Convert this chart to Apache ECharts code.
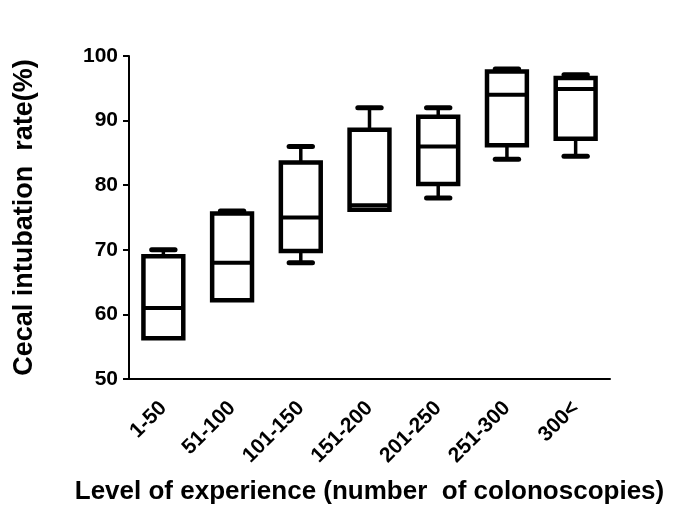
<!DOCTYPE html>
<html>
<head>
<meta charset="utf-8">
<script src="https://cdn.jsdelivr.net/npm/echarts@6/dist/echarts.min.js"></script>
<style>html,body{margin:0;padding:0;background:#fff;}#c{width:685px;height:513px;}</style>
</head>
<body>
<div id="c"></div>
<script>
var categories = ['1-50', '51-100', '101-150', '151-200', '201-250', '251-300', '300<'];
var minVals    = [56.3, 62.2, 68.0, 76.2, 78.0, 84.0, 84.5];
var q1Vals     = [56.3, 62.2, 69.8, 76.2, 80.2, 86.2, 87.2];
var medianVals = [61.0, 68.0, 75.0, 76.9, 86.0, 94.0, 94.9];
var q3Vals     = [69.0, 75.6, 83.5, 88.6, 90.6, 97.6, 96.6];
var maxVals    = [70.0, 76.0, 86.0, 92.0, 92.0, 98.0, 97.1];
var yTicks = [50, 60, 70, 80, 90, 100];

var data = categories.map(function (c, i) {
  return [i, minVals[i], q1Vals[i], medianVals[i], q3Vals[i], maxVals[i]];
});

var FONT = 'Liberation Sans';
var chart = echarts.init(document.getElementById('c'));

function renderItem(params, api) {
  var x = api.value(0);
  var pMin = api.coord([x, api.value(1)]);
  var pQ1 = api.coord([x, api.value(2)]);
  var pMed = api.coord([x, api.value(3)]);
  var pQ3 = api.coord([x, api.value(4)]);
  var pMax = api.coord([x, api.value(5)]);
  var band = api.size([1, 0])[0];
  var bw = band * 0.58;
  var cw = band * 0.34;
  var cx = pMed[0];
  var children = [];
  if (pMax[1] < pQ3[1] - 0.5) {
    children.push({type: 'line', shape: {x1: cx, y1: pQ3[1], x2: cx, y2: pMax[1]}, style: {stroke: '#000', lineWidth: 3.5}});
  }
  children.push({type: 'line', shape: {x1: cx - cw / 2, y1: pMax[1], x2: cx + cw / 2, y2: pMax[1]}, style: {stroke: '#000', lineWidth: 5, lineCap: 'round'}});
  if (pMin[1] > pQ1[1] + 0.5) {
    children.push({type: 'line', shape: {x1: cx, y1: pQ1[1], x2: cx, y2: pMin[1]}, style: {stroke: '#000', lineWidth: 3.5}});
    children.push({type: 'line', shape: {x1: cx - cw / 2, y1: pMin[1], x2: cx + cw / 2, y2: pMin[1]}, style: {stroke: '#000', lineWidth: 5, lineCap: 'round'}});
  }
  children.push({type: 'rect', shape: {x: cx - bw / 2, y: pQ3[1], width: bw, height: pQ1[1] - pQ3[1]}, style: {stroke: '#000', lineWidth: 4.5, fill: '#fff'}});
  children.push({type: 'line', shape: {x1: cx - bw / 2, y1: pMed[1], x2: cx + bw / 2, y2: pMed[1]}, style: {stroke: '#000', lineWidth: 4}});
  return {type: 'group', children: children};
}

chart.setOption({
  animation: false,
  backgroundColor: '#fff',
  grid: {left: 129, right: 75, top: 56, bottom: 134, containLabel: false, outerBoundsMode: 'none'},
  xAxis: {
    type: 'category',
    data: categories,
    axisLine: {lineStyle: {color: '#000', width: 2}},
    axisTick: {alignWithLabel: true, length: 6, lineStyle: {color: '#000', width: 2}},
    axisLabel: {rotate: 45, color: '#000', fontFamily: FONT, fontWeight: 'bold', fontSize: 21, margin: 26},
    name: 'Level of experience (number  of colonoscopies)',
    nameLocation: 'middle',
    nameGap: 100,
    nameTextStyle: {color: '#000', fontFamily: FONT, fontWeight: 'bold', fontSize: 26}
  },
  yAxis: {
    type: 'value',
    min: yTicks[0],
    max: yTicks[yTicks.length - 1],
    interval: 10,
    splitLine: {show: false},
    axisLine: {show: true, lineStyle: {color: '#000', width: 2}},
    axisTick: {show: true, length: 6, lineStyle: {color: '#000', width: 2}},
    axisLabel: {color: '#000', fontFamily: FONT, fontWeight: 'bold', fontSize: 21, margin: 11},
    name: 'Cecal intubation  rate(%)',
    nameLocation: 'middle',
    nameRotate: 90,
    nameGap: 91,
    nameTextStyle: {color: '#000', fontFamily: FONT, fontWeight: 'bold', fontSize: 27}
  },
  series: [{
    type: 'custom',
    renderItem: renderItem,
    encode: {x: 0, y: [1, 2, 3, 4, 5]},
    data: data,
    clip: false
  }]
});
</script>
</body>
</html>
